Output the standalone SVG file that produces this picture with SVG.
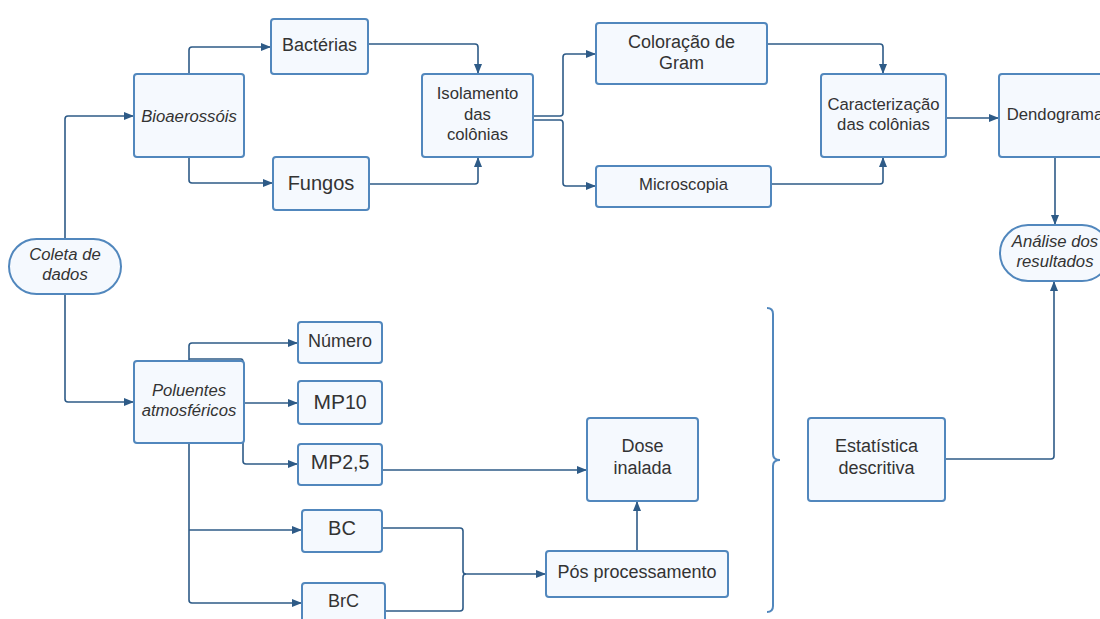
<svg xmlns="http://www.w3.org/2000/svg" width="1100" height="619" viewBox="0 0 1100 619">
<style>
.b{fill:#f5f9fe;stroke:#5187bd;stroke-width:2}
.c{fill:none;stroke:#2e5b87;stroke-width:1.6;marker-end:url(#a)}
.n{fill:none;stroke:#2e5b87;stroke-width:1.6}
text{font-family:"Liberation Sans",Arial,sans-serif;fill:#333;text-anchor:middle}
.i{font-style:italic;font-size:16.7px}
.s{font-size:16.7px}
.m{font-size:18px}
.l{font-size:20px}
.mp{font-size:21px}
.d{font-size:19.5px}
</style>
<defs>
<marker id="a" viewBox="0 0 10 10" refX="10" refY="5" markerWidth="10" markerHeight="10" markerUnits="userSpaceOnUse" orient="auto">
<path d="M0,1 L10,5 L0,9 Z" fill="#2e5b87"/>
</marker>
</defs>
<g id="connectors">
<path class="c" d="M65,239 V119 Q65,116 68,116 H134"/>
<path class="c" d="M65,294 V399 Q65,402 68,402 H134"/>
<path class="c" d="M189,74 V50 Q189,47 192,47 H271"/>
<path class="c" d="M189,157 V180 Q189,183 192,183 H273"/>
<path class="c" d="M368,44 H475 Q478,44 478,47 V74"/>
<path class="c" d="M369,184 H475 Q478,184 478,181 V157"/>
<path class="c" d="M533,116 H560 Q563,116 563,113 V57 Q563,54 566,54 H596"/>
<path class="c" d="M533,120 H560 Q563,120 563,123 V183 Q563,186 566,186 H596"/>
<path class="c" d="M767,44 H880 Q883,44 883,47 V74"/>
<path class="c" d="M771,184 H880 Q883,184 883,181 V157"/>
<path class="c" d="M946,118 H999"/>
<path class="c" d="M1055,157 V225"/>
<path class="c" d="M945,459 H1051 Q1054,459 1054,456 V281"/>
<path class="c" d="M189,361 V346 Q189,343 192,343 H298"/>
<path class="c" d="M244,403 H298"/>
<path class="c" d="M189,359 H241 Q243,359 243,362 V461 Q243,464 246,464 H298"/>
<path class="c" d="M189,443 V600 Q189,603 192,603 H302"/>
<path class="c" d="M189,530 H302"/>
<path class="c" d="M382,470 H587"/>
<path class="n" d="M382,528 H460 Q463,528 463,531 V571 Q463,574 466,574"/>
<path class="n" d="M385,611 H460 Q463,611 463,608 V577 Q463,574 466,574"/>
<path class="c" d="M466,574 H546"/>
<path class="c" d="M637,551 V501"/>
<path d="M767,308 Q773,308 773,314 V454 Q773,460 780,460 Q773,460 773,466 V606 Q773,612 767,612" fill="none" stroke="#5187bd" stroke-width="2"/>
</g>
<g id="coleta"><rect class="b" x="9" y="239" width="112" height="55" rx="27.5"/><text class="i" x="65" y="260">Coleta de</text><text class="i" x="65" y="280">dados</text></g>
<g id="bioaerossois"><rect class="b" x="134" y="74" width="110" height="83" rx="3"/><text class="i" x="189" y="122">Bioaerossóis</text></g>
<g id="bacterias"><rect class="b" x="271" y="19" width="97" height="55" rx="3"/><text class="m" x="319.5" y="50.5">Bactérias</text></g>
<g id="fungos"><rect class="b" x="273" y="157" width="96" height="53" rx="3"/><text class="l" x="321" y="190">Fungos</text></g>
<g id="isolamento"><rect class="b" x="422" y="74" width="111" height="83" rx="3"/><text class="s" x="477.5" y="99">Isolamento</text><text class="s" x="477.5" y="119.5">das</text><text class="s" x="477.5" y="140">colônias</text></g>
<g id="coloracao"><rect class="b" x="596" y="23" width="171" height="61" rx="3"/><text class="m" x="681.5" y="47.5">Coloração de</text><text class="m" x="681.5" y="69">Gram</text></g>
<g id="microscopia"><rect class="b" x="596" y="166" width="175" height="41" rx="3"/><text class="s" x="683.5" y="190">Microscopia</text></g>
<g id="caracterizacao"><rect class="b" x="821" y="74" width="125" height="83" rx="3"/><text class="s" x="883.5" y="110">Caracterização</text><text class="s" x="883.5" y="129.5">das colônias</text></g>
<g id="dendograma"><rect class="b" x="999" y="74" width="112" height="83" rx="3"/><text class="s" x="1055" y="120">Dendograma</text></g>
<g id="analise"><rect class="b" x="1000" y="225" width="110" height="56" rx="28"/><text class="i" x="1055" y="247">Análise dos</text><text class="i" x="1055" y="267">resultados</text></g>
<g id="poluentes"><rect class="b" x="134" y="361" width="110" height="82" rx="3"/><text class="i" x="189" y="396">Poluentes</text><text class="i" x="189" y="416">atmosféricos</text></g>
<g id="numero"><rect class="b" x="298" y="322" width="84" height="41" rx="3"/><text class="m" x="340" y="347">Número</text></g>
<g id="mp10"><rect class="b" x="298" y="381" width="84" height="43" rx="3"/><text x="340" y="409"><tspan class="mp">MP</tspan><tspan class="d">10</tspan></text></g>
<g id="mp25"><rect class="b" x="298" y="444" width="84" height="41" rx="3"/><text x="340" y="469"><tspan class="mp">MP</tspan><tspan class="d">2,5</tspan></text></g>
<g id="bc"><rect class="b" x="302" y="510" width="80" height="42" rx="3"/><text class="l" x="342" y="535">BC</text></g>
<g id="brc"><rect class="b" x="302" y="583" width="83" height="42" rx="3"/><text class="m" x="343.5" y="607">BrC</text></g>
<g id="dose"><rect class="b" x="587" y="418" width="111" height="83" rx="3"/><text class="m" x="642.5" y="452">Dose</text><text class="m" x="642.5" y="474">inalada</text></g>
<g id="pos"><rect class="b" x="546" y="551" width="182" height="46" rx="3"/><text class="m" x="637" y="578">Pós processamento</text></g>
<g id="estatistica"><rect class="b" x="808" y="418" width="137" height="83" rx="3"/><text class="m" x="876.5" y="452">Estatística</text><text class="m" x="876.5" y="474">descritiva</text></g>
</svg>
